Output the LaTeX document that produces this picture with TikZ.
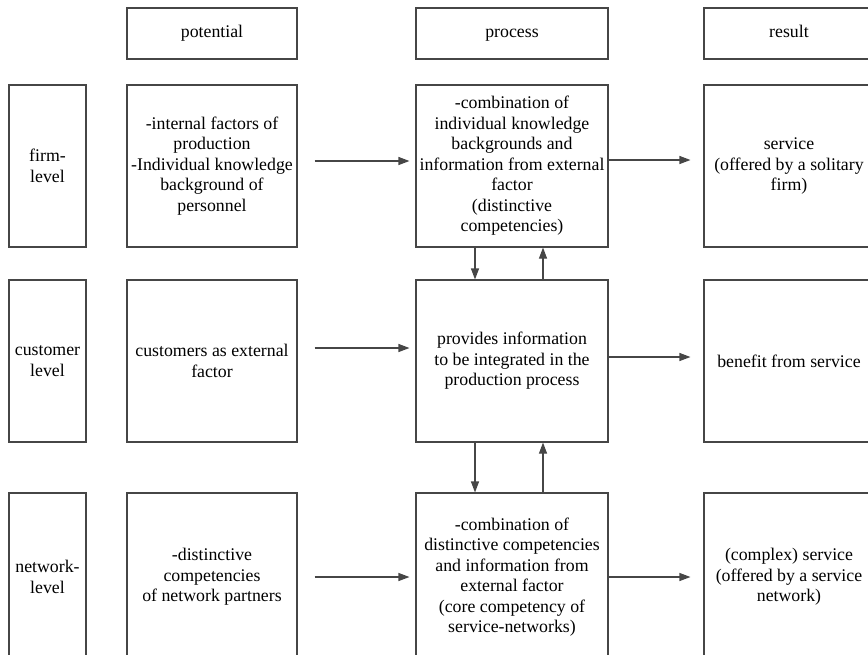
\documentclass[tikz,border=0pt]{standalone}
\usepackage{fontspec}
\setmainfont{Liberation Serif}
\usepackage{tikz}
\usetikzlibrary{arrows.meta}
\definecolor{boxgray}{RGB}{70,70,70}

\begin{document}
\begin{tikzpicture}[x=1pt, y=-1pt,
    cell/.style={draw=boxgray, line width=1.1pt, align=center, inner sep=0pt,
        font=\fontsize{17.8}{20.5}\selectfont},
    head/.style={cell, minimum height=51pt, text height=12pt, text depth=4pt},
    lvl/.style={cell, minimum width=77pt, minimum height=162pt},
    arr/.style={-{Triangle[length=11pt,width=8pt]}, draw=boxgray, line width=1.1pt}]
    \clip (0,0) rectangle (868,654);

    % Column headers
    \node[head, minimum width=170pt] (hpot)  at (212,33.5) {potential};
    \node[head, minimum width=192pt] (hproc) at (512,33.5) {process};
    \node[head, minimum width=170pt] (hres)  at (789,33.5) {result};

    % Level labels
    \node[lvl] (lfirm) at (47.5,166) {firm-\\level};
    \node[lvl] (lcust) at (47.5,361) {customer\\level};
    \node[lvl, minimum height=168pt] (lnet) at (47.5,577) {network-\\level};

    % Firm level
    \node[cell, minimum width=170pt, minimum height=162pt] (pot1) at (212,166)
        {-internal factors of\\production\\-Individual knowledge\\background of\\personnel};
    \node[cell, minimum width=192pt, minimum height=162pt] (proc1) at (512,166)
        {-combination of\\individual knowledge\\backgrounds and\\information from external\\factor\\(distinctive\\competencies)};
    \node[cell, minimum width=170pt, minimum height=162pt] (res1) at (789,166)
        {service\\(offered by a solitary\\firm)};

    % Customer level
    \node[cell, minimum width=170pt, minimum height=162pt] (pot2) at (212,361)
        {customers as external\\factor};
    \node[cell, minimum width=192pt, minimum height=162pt] (proc2) at (512,361)
        {provides information\\to be integrated in the\\production process};
    \node[cell, minimum width=170pt, minimum height=162pt] (res2) at (789,361)
        {benefit from service};

    % Network level
    \node[cell, minimum width=170pt, minimum height=168pt] (pot3) at (212,577)
        {-distinctive\\competencies\\of network partners};
    \node[cell, minimum width=192pt, minimum height=168pt] (proc3) at (512,577)
        {-combination of\\distinctive competencies\\and information from\\external factor\\(core competency of\\service-networks)};
    \node[cell, minimum width=170pt, minimum height=168pt] (res3) at (789,577)
        {(complex) service\\(offered by a service\\network)};

    % Horizontal arrows
    \draw[arr, shorten <=17pt, shorten >=6pt] ([yshift=5pt]pot1.east) -- ([yshift=5pt]proc1.west);
    \draw[arr, shorten >=13pt] ([yshift=6pt]proc1.east) -- ([yshift=6pt]res1.west);
    \draw[arr, shorten <=17pt, shorten >=6pt] ([yshift=13pt]pot2.east) -- ([yshift=13pt]proc2.west);
    \draw[arr, shorten >=13pt] ([yshift=4pt]proc2.east) -- ([yshift=4pt]res2.west);
    \draw[arr, shorten <=17pt, shorten >=6pt] (pot3.east) -- (proc3.west);
    \draw[arr, shorten >=13pt] (proc3.east) -- (res3.west);

    % Vertical arrows between process boxes
    \foreach \a/\b in {proc1/proc2, proc2/proc3} {
        \draw[arr] ([xshift=-37pt]\a.south) -- ([xshift=-37pt]\b.north);
        \draw[arr] ([xshift=31pt]\b.north) -- ([xshift=31pt]\a.south);
    }

\end{tikzpicture}
\end{document}
